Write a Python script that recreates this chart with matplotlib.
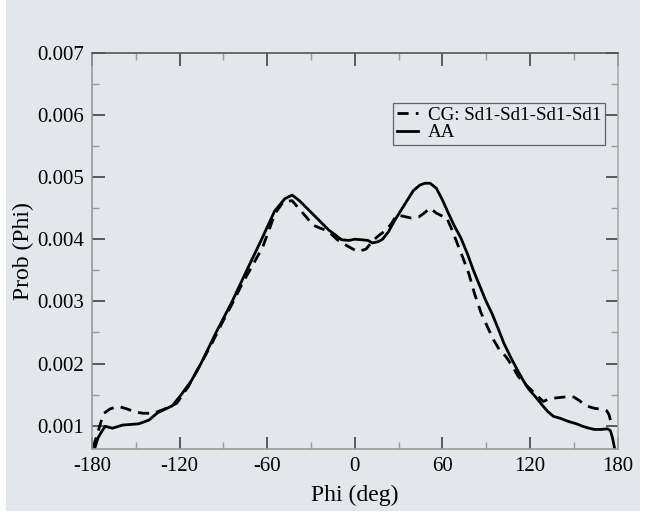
import matplotlib
matplotlib.use("Agg")
import matplotlib.pyplot as plt
from matplotlib.patches import Rectangle
from matplotlib.ticker import MultipleLocator

# AA (solid) distribution
aa_phi = [-178.3, -176, -173, -171, -166, -159, -148, -141, -135, -125, -119.5,
          -112, -105.4, -95, -84, -74, -63.8, -55, -48, -43, -38, -32, -23.5, -18,
          -9, -4, 0, 5, 9, 12, 16, 19, 23, 27.5, 32, 36, 40, 44.5, 48, 51.5, 55.8,
          60, 64, 68, 72.6, 77, 81, 85, 89.5, 94, 98, 102, 106.5, 111, 115, 119,
          123.5, 128, 132, 136, 140.5, 146, 151.8, 156, 160.3, 164, 168.8, 173,
          175, 176.5, 178]
aa_val = [0.00062, 0.00080, 0.00092, 0.00099, 0.00096, 0.00101, 0.00103, 0.00109,
          0.00121, 0.00132, 0.00148, 0.00172, 0.00200, 0.00250, 0.00300, 0.00350,
          0.00400, 0.00445, 0.00465, 0.00471, 0.00462, 0.00448, 0.00428, 0.00415,
          0.00399, 0.00398, 0.00400, 0.00399, 0.00398, 0.00394, 0.00396, 0.00400,
          0.00412, 0.00431, 0.00448, 0.00463, 0.00478, 0.00487, 0.00490, 0.00490,
          0.00482, 0.00463, 0.00442, 0.00422, 0.00402, 0.00377, 0.00351, 0.00328,
          0.00302, 0.00280, 0.00257, 0.00233, 0.00211, 0.00191, 0.00174, 0.00159,
          0.00147, 0.00134, 0.00123, 0.00115, 0.00112, 0.00107, 0.00103, 0.00099,
          0.00096, 0.00094, 0.00094, 0.00095, 0.00092, 0.00080, 0.00062]

# CG: Sd1-Sd1-Sd1-Sd1 (dashed) distribution
cg_phi = [-179.4, -177, -174, -171.8, -167.6, -162, -156, -150.6, -145, -138, -131,
          -122, -114, -105.4, -98, -91, -84, -77, -70, -63, -54.5, -49, -43, -37.5,
          -33, -29, -24, -20.5, -16, -12, -6.5, -2, 2, 7.6, 13, 17, 21.7, 25, 28.7,
          33, 38.6, 44, 48, 51.5, 55.8, 60, 62.6, 66, 70, 74, 78, 82, 86.5, 91, 95,
          99, 103.5, 108, 112, 116, 120.6, 125, 129, 132, 135, 139, 143, 147, 150,
          154, 157, 161, 164, 167, 170, 172.5, 174, 175.5]
cg_val = [0.00064, 0.00082, 0.00105, 0.00120, 0.00127, 0.00131, 0.00127, 0.00122,
          0.00120, 0.00120, 0.00126, 0.00136, 0.00163, 0.00200, 0.00232, 0.00265,
          0.00296, 0.00329, 0.00358, 0.00388, 0.00442, 0.00460, 0.00462, 0.00447,
          0.00435, 0.00423, 0.00418, 0.00415, 0.00408, 0.00399, 0.00391, 0.00385,
          0.00380, 0.00384, 0.00399, 0.00407, 0.00415, 0.00425, 0.00439, 0.00437,
          0.00434, 0.00436, 0.00443, 0.00450, 0.00442, 0.00437, 0.00436, 0.00418,
          0.00394, 0.00370, 0.00345, 0.00312, 0.00281, 0.00258, 0.00238, 0.00222,
          0.00211, 0.00195, 0.00179, 0.00168, 0.00158, 0.00148, 0.00139, 0.00142,
          0.00144, 0.00145, 0.00146, 0.00147, 0.00146, 0.00140, 0.00134, 0.00130,
          0.00128, 0.00127, 0.00126, 0.00124, 0.00118, 0.00105]

x_ticks = [-180, -120, -60, 0, 60, 120, 180]
y_ticks = [0.001, 0.002, 0.003, 0.004, 0.005, 0.006, 0.007]

bg = "#e3e6ea"
plt.rcParams['font.family'] = ['Liberation Serif', 'DejaVu Serif']

fig = plt.figure(figsize=(6.45, 5.19), dpi=100, facecolor="white")
fig.patches.append(Rectangle((6/645, 1-511/519), 634/645, 511/519,
                             transform=fig.transFigure, facecolor=bg,
                             edgecolor="none", zorder=-10))
ax = fig.add_axes([92/645, 1-449/519, (617.7-92)/645, (449-52.7)/519])
ax.set_facecolor(bg)

ax.plot(cg_phi, cg_val, color="black", lw=2.0, dashes=(4, 2.6),
        label="CG: Sd1-Sd1-Sd1-Sd1")
ax.plot(aa_phi, aa_val, color="black", lw=2.0, label="AA")

ax.set_xlim(-180, 180)
ax.set_ylim(0.000625, 0.007)
ax.set_xticks(x_ticks)
ax.set_xticklabels([str(t) for t in x_ticks])
ax.set_yticks(y_ticks)
ax.set_yticklabels([f"{t:.3f}" for t in y_ticks])
ax.xaxis.set_minor_locator(MultipleLocator(30))
ax.yaxis.set_minor_locator(MultipleLocator(0.0005))
ax.tick_params(which="both", direction="in", top=True, right=True,
               labelsize=15, pad=6)
ax.tick_params(which="major", length=9, width=1.1, color="#333333")
ax.tick_params(which="minor", length=5, width=1.0, color="#999999")

for side, col in [("top", "#555555"), ("left", "#999999"),
                  ("right", "#aaaaaa"), ("bottom", "#999999")]:
    ax.spines[side].set_color(col)
    ax.spines[side].set_linewidth(1.2)

ax.set_xlabel("Phi (deg)", fontsize=17, labelpad=6)
ax.set_ylabel("Prob (Phi)", fontsize=17, labelpad=2)

leg = ax.legend(loc="upper right", bbox_to_anchor=(0.976, 0.873),
                fontsize=13.7, frameon=True, fancybox=False,
                facecolor=bg, edgecolor="#444444", borderpad=0.2,
                handlelength=1.15, handletextpad=0.5, labelspacing=0.0,
                borderaxespad=0)
leg.get_frame().set_linewidth(0.9)

fig.savefig("out.png", dpi=100, facecolor="white")
